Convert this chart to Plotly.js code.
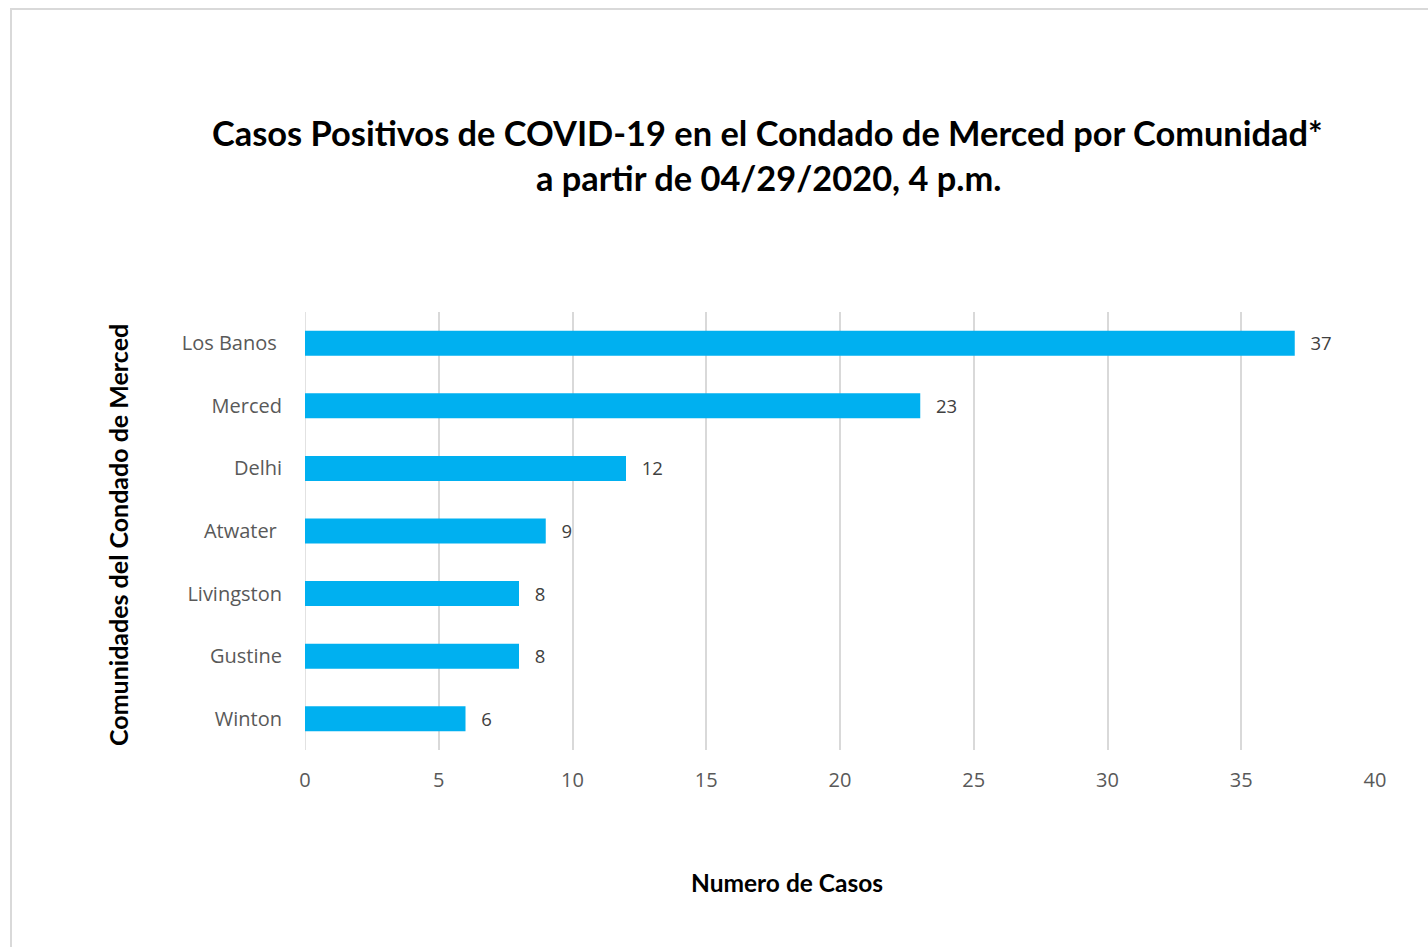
<!DOCTYPE html>
<html><head><meta charset="utf-8">
<script src="https://cdn.plot.ly/plotly-3.0.1.min.js"></script>
<style>
html,body{margin:0;padding:0;background:#fff;overflow:hidden;}
#frame{position:absolute;left:10px;top:8px;width:1440px;height:960px;border:2px solid #d9d9d9;box-sizing:border-box;}
#chart{position:absolute;left:0;top:0;width:1428px;height:947px;}
</style></head>
<body>
<div id="frame"></div>
<div id="chart"></div>
<script>
const categories = ["Los Banos\u00a0", "Merced", "Delhi", "Atwater\u00a0", "Livingston", "Gustine", "Winton"];
const cases = [37, 23, 12, 9, 8, 8, 6];
const tickValues = [0, 5, 10, 15, 20, 25, 30, 35, 40];
const titleLines = ["Casos Positivos de COVID-19 en el Condado de Merced por Comunidad*", "a partir de 04/29/2020, 4 p.m."];
const xTitle = "Numero de Casos";
const yTitle = "Comunidades del Condado de Merced";

const trace = {
  type: "bar",
  orientation: "h",
  y: categories,
  x: cases,
  text: cases.map(v => "\u00a0\u00a0\u2009" + v),
  textposition: "outside",
  cliponaxis: false,
  textfont: {family: "Open Sans, sans-serif", size: 20, color: "#404040"},
  marker: {color: "#00b0f0"},
  width: 0.4,
  hoverinfo: "x+y"
};

const layout = {
  width: 1428, height: 947,
  paper_bgcolor: "rgba(0,0,0,0)", plot_bgcolor: "rgba(0,0,0,0)",
  margin: {l: 305, r: 53, t: 312, b: 197},
  showlegend: false,
  xaxis: {
    range: [0, 40], tickvals: tickValues, ticktext: tickValues.map(String),
    showgrid: true, gridcolor: "#d9d9d9", gridwidth: 1.5,
    zeroline: false, showline: false,
    ticks: "outside", ticklen: 12, tickcolor: "rgba(0,0,0,0)",
    tickfont: {family: "Open Sans, sans-serif", size: 20, color: "#595959"},
    fixedrange: true
  },
  yaxis: {
    categoryorder: "array", categoryarray: categories.slice().reverse(),
    showgrid: false, zeroline: false, showline: false,
    ticks: "outside", ticklen: 18, tickcolor: "rgba(0,0,0,0)",
    tickfont: {family: "Open Sans, sans-serif", size: 20, color: "#595959"},
    fixedrange: true
  },
  shapes: [{type: "line", xref: "x", yref: "paper", x0: 0, x1: 0, y0: 0, y1: 1, line: {color: "#d9d9d9", width: 1.5}, layer: "below"}],
  annotations: [
    {text: "<b>" + titleLines[0] + "</b>", xref: "paper", yref: "paper", x: (767-305)/1070, y: 1 + (312-132)/438, xanchor: "center", yanchor: "middle", showarrow: false, font: {family: "Lato, sans-serif", size: 34.4, color: "#000"}},
    {text: "<b>" + titleLines[1] + "</b>", xref: "paper", yref: "paper", x: (768-305)/1070, y: 1 + (312-178)/438, xanchor: "center", yanchor: "middle", showarrow: false, font: {family: "Lato, sans-serif", size: 34.4, color: "#000"}},
    {text: "<b>" + xTitle + "</b>", xref: "paper", yref: "paper", x: (787-305)/1070, y: -(882-750)/438, xanchor: "center", yanchor: "middle", showarrow: false, font: {family: "Lato, sans-serif", size: 24.5, color: "#000"}},
    {text: "<b>" + yTitle + "</b>", xref: "paper", yref: "paper", x: -(305-118)/1070, y: 1 - (535-312)/438, xanchor: "center", yanchor: "middle", textangle: -90, showarrow: false, font: {family: "Lato, sans-serif", size: 25, color: "#000"}}
  ]
};

Plotly.newPlot("chart", [trace], layout, {displayModeBar: false});
</script>
</body></html>
